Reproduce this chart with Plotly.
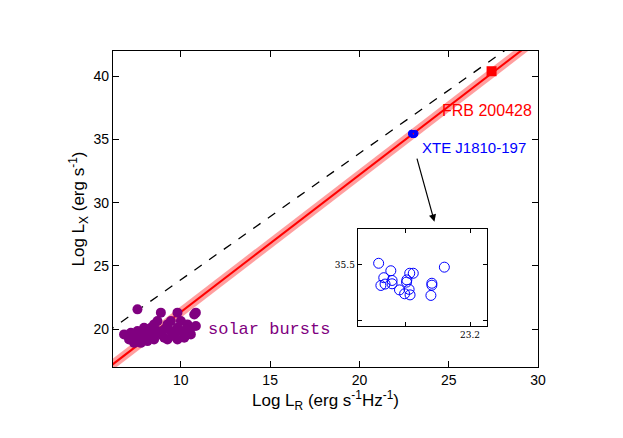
import plotly.graph_objects as go

# solar bursts (Log L_R, Log L_X)
solar_x = [7.57, 6.82, 7.2, 7.38, 7.57, 7.76, 7.94, 8.13, 8.32, 8.5, 8.69, 8.88, 9.07, 9.25,
           9.44, 9.63, 9.81, 10.0, 10.19, 10.37, 10.56, 10.75, 10.84, 10.84, 9.81, 8.88, 7.38,
           7.76, 8.13, 8.5, 9.25, 9.81, 10.19, 10.56, 8.32, 7.94, 8.69, 9.44, 9.07, 7.57, 7.1,
           10.0, 10.37]
solar_y = [21.56, 19.58, 19.71, 19.18, 19.84, 19.44, 19.71, 19.31, 20.1, 20.37, 19.84, 19.58,
           19.97, 20.37, 19.84, 19.44, 20.1, 20.63, 19.84, 19.58, 20.1, 21.16, 21.3, 20.24,
           21.3, 21.3, 18.91, 18.91, 19.05, 19.18, 19.18, 19.18, 19.31, 19.58, 19.58, 20.1,
           20.63, 20.63, 19.31, 19.44, 19.18, 19.84, 20.37]

# XTE J1810-197
xte_x = [22.915, 22.953, 22.931, 22.957, 22.922, 22.935, 22.957, 22.980, 22.996, 23.002,
         23.003, 23.012, 23.023, 23.010, 23.013, 23.081, 23.081, 23.078, 23.120]
xte_y = [35.506, 35.479, 35.454, 35.444, 35.426, 35.431, 35.432, 35.410, 35.396, 35.438,
         35.446, 35.470, 35.470, 35.412, 35.392, 35.434, 35.427, 35.390, 35.492]

frb_x = [27.4]
frb_y = [40.4]

line_x = [5, 31]
fit_a, fit_b, fit_w = 10.5, 1.085, 0.45
dash_a, dash_b = 13.9, 1.0

fit_y = [fit_a + fit_b * v for v in line_x]
dash_y = [dash_a + dash_b * v for v in line_x]

fig = go.Figure()
fig.add_trace(go.Scatter(x=line_x, y=[v - fit_w for v in fit_y], mode="lines",
                         line=dict(color="rgba(255,0,0,0)", width=0)))
fig.add_trace(go.Scatter(x=line_x, y=[v + fit_w for v in fit_y], mode="lines", fill="tonexty",
                         fillcolor="rgba(255,80,80,0.55)", line=dict(color="rgba(255,0,0,0)", width=0)))
fig.add_trace(go.Scatter(x=line_x, y=fit_y, mode="lines", line=dict(color="red", width=2)))
fig.add_trace(go.Scatter(x=line_x, y=dash_y, mode="lines",
                         line=dict(color="black", width=1.3, dash="dash")))
fig.add_trace(go.Scatter(x=solar_x, y=solar_y, mode="markers",
                         marker=dict(color="purple", size=10)))
fig.add_trace(go.Scatter(x=xte_x, y=xte_y, mode="markers",
                         marker=dict(color="blue", size=6, symbol="circle-open")))
fig.add_trace(go.Scatter(x=frb_x, y=frb_y, mode="markers",
                         marker=dict(color="red", size=10, symbol="square")))

# inset
fig.add_trace(go.Scatter(x=xte_x, y=xte_y, mode="markers", xaxis="x2", yaxis="y2",
                         marker=dict(color="rgba(0,0,0,0)", size=10,
                                     line=dict(color="blue", width=1))))

fig.add_annotation(x=29.8, y=37.3, text="FRB 200428", showarrow=False, xanchor="right",
                   font=dict(color="red", size=16, family="Liberation Sans"))
fig.add_annotation(x=23.4, y=34.4, text="XTE J1810-197", showarrow=False, xanchor="left",
                   font=dict(color="blue", size=15, family="Liberation Sans"))
fig.add_annotation(x=11.4, y=20.0, text="solar bursts", showarrow=False, xanchor="left",
                   font=dict(color="purple", size=17, family="Liberation Mono"))
fig.add_annotation(x=24.2, y=28.5, ax=23.2, ay=33.6, xref="x", yref="y", axref="x", ayref="y",
                   text="", showarrow=True, arrowhead=2, arrowsize=1.2, arrowwidth=1.2,
                   arrowcolor="black")

axis_style = dict(showline=True, linecolor="black", linewidth=1.2, mirror="ticks", ticks="inside",
                  showgrid=False, zeroline=False, tickcolor="black")

fig.update_layout(
    width=623, height=438, showlegend=False,
    paper_bgcolor="white", plot_bgcolor="white",
    margin=dict(l=105, r=93, t=43, b=79),
    font=dict(family="Liberation Sans", color="black", size=14),
    xaxis=dict(range=[6.2, 30], dtick=5, ticklen=6,
               title=dict(text="Log L<sub>R</sub> (erg s<sup>-1</sup>Hz<sup>-1</sup>)", standoff=6),
               **axis_style),
    yaxis=dict(range=[17, 42], dtick=5, ticklen=6,
               title=dict(text="Log L<sub>X</sub> (erg s<sup>-1</sup>)", standoff=4),
               **axis_style),
    xaxis2=dict(domain=[0.576, 0.88], anchor="y2", range=[22.85, 23.253],
                tickvals=[23.0, 23.2], ticktext=["", "23.2"], ticklen=4,
                tickfont=dict(size=9, family="DejaVu Serif"), **axis_style),
    yaxis2=dict(domain=[0.13, 0.437], anchor="x2", range=[35.28, 35.63],
                tickvals=[35.3, 35.5], ticktext=["", "35.5"], ticklen=4,
                tickfont=dict(size=9, family="DejaVu Serif"), **axis_style),
)

fig.write_html("out.html")
